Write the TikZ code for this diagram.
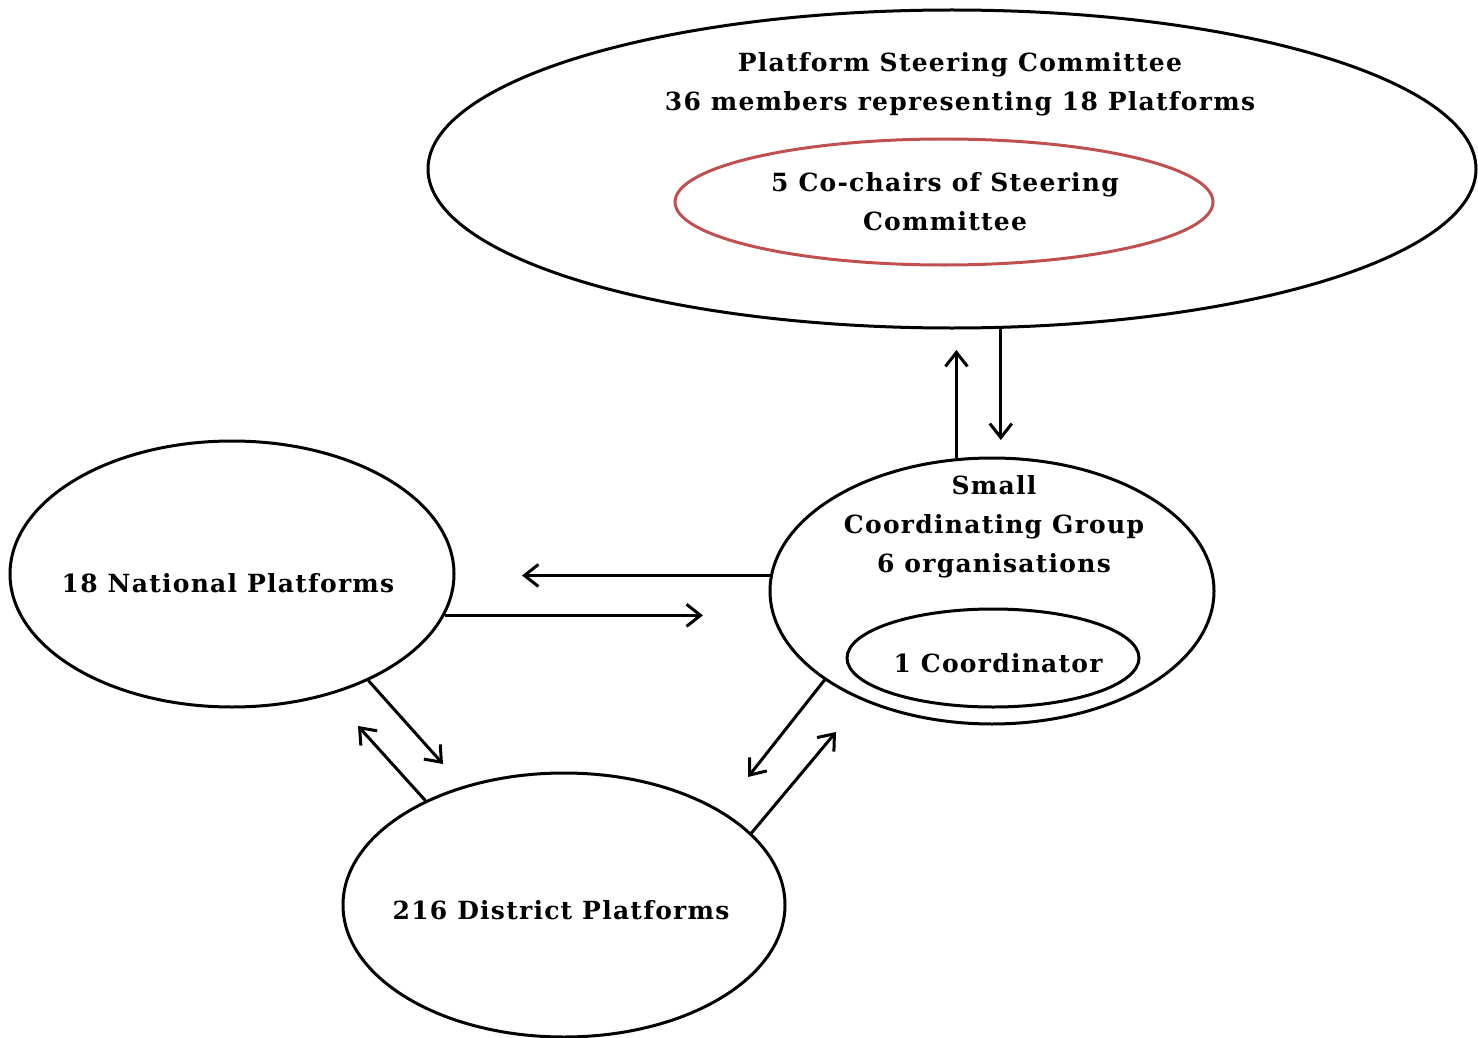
\documentclass[tikz,border=0pt]{standalone}
\usepackage{fontspec}
\setmainfont{DejaVu Serif}[LetterSpace=5]
\usetikzlibrary{shapes.geometric,arrows.meta}
\definecolor{cochair}{RGB}{192,80,80}
\begin{document}
\begin{tikzpicture}[x=1pt,y=-1pt,
  ell/.style={draw=black,ellipse,line width=3pt,inner sep=0pt},
  lbl/.style={font=\fontsize{25}{39}\selectfont\bfseries,align=center,inner sep=0pt},
  arr/.style={line width=3pt,-{Straight Barb[length=14pt,width=22pt,line width=3pt]}}]
\useasboundingbox (0,0) rectangle (1478,1038);
% ellipses
\node[ell,minimum width=1048pt,minimum height=318pt] (psc) at (952,169) {};
\node[ell,draw=cochair,minimum width=538pt,minimum height=126pt] (cochairs) at (944,202) {};
\node[ell,minimum width=444pt,minimum height=266pt] (nat) at (232,574) {};
\node[ell,minimum width=444pt,minimum height=266pt] (scg) at (992,591) {};
\node[ell,minimum width=292pt,minimum height=98pt] (coord) at (993,658) {};
\node[ell,minimum width=442pt,minimum height=264pt] (dist) at (564,905) {};
% labels
\node[lbl] (psct) at (960,84) {Platform Steering Committee\\36 members representing 18 Platforms};
\node[lbl] (cochairt) at (945,202) {5 Co-chairs of Steering\\Committee};
\node[lbl] (natt) at (228,583) {18 National Platforms};
\node[lbl] (scgt) at (994,527) {Small\\Coordinating Group\\6 organisations};
\node[lbl] (coordt) at (998,663) {1 Coordinator};
\node[lbl] (distt) at (561,910) {216 District Platforms};
% free ends
\coordinate (upend) at (957,350);
\coordinate (downend) at (1002,440);
\coordinate (leftend) at (522,576);
\coordinate (rightend) at (703,614);
\coordinate (ndend) at (443,764);
\coordinate (dnend) at (358,726);
\coordinate (sdend) at (748,777);
\coordinate (dsend) at (836,732);
% connectors
\draw[arr] (scg.105) -- (scg.105 |- upend);
\draw[arr] (psc.287.5) -- (psc.287.5 |- downend);
\draw[arr] (scg.176.1) -- (scg.176.1 -| leftend);
\draw[arr] (nat.349.3) -- (nat.349.3 -| rightend);
\draw[arr] (nat.322.3) -- (ndend);
\draw[arr] (dist.143.9) -- (dnend);
\draw[arr] (scg.208.7) -- (sdend);
\draw[arr] (dist.21.4) -- (dsend);
\end{tikzpicture}
\end{document}
